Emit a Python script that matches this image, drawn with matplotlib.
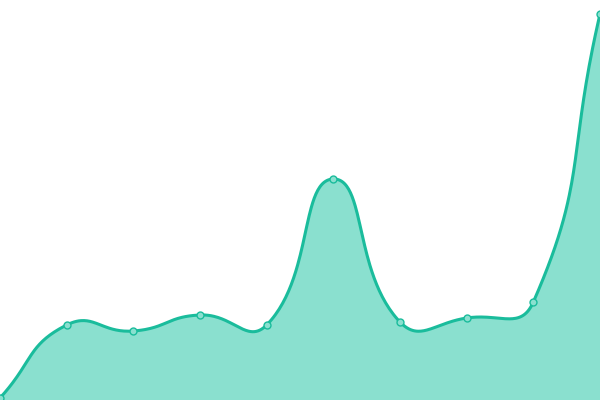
import numpy as np
import matplotlib
matplotlib.use("Agg")
import matplotlib.pyplot as plt

categories = list(range(10))
values = [2, 75, 69, 85, 75, 221, 78, 82, 98, 386]

LINE = "#1abc9c"
FILL = "#8ae0cf"

fig = plt.figure(figsize=(6, 4), dpi=100)
ax = fig.add_axes([0, 0, 1, 1])
ax.set_xlim(0, 9)
ax.set_ylim(0, 400)
ax.axis("off")

# smooth bezier like echarts (smooth=0.5) computed in pixel-proportional space
sx = 600 / 9.0
P = np.array([[c * sx, v] for c, v in zip(categories, values)], dtype=float)
n = len(P)
smooth = 0.5
cps = []
for i in range(n):
    prev = P[i - 1] if i > 0 else P[i]
    nxt = P[i + 1] if i < n - 1 else P[i]
    cur = P[i]
    v = nxt - prev
    d0 = np.linalg.norm(cur - prev)
    d1 = np.linalg.norm(nxt - cur)
    ratio = d0 / (d0 + d1) if (d0 + d1) > 0 else 0.5
    cp0 = cur - v * smooth * ratio
    cp1 = cur + v * smooth * (1 - ratio)
    cps.append((cp0, cp1))

xs, ys = [], []
t = np.linspace(0, 1, 60)
for i in range(n - 1):
    p0 = P[i]
    c1 = cps[i][1]
    c2 = cps[i + 1][0]
    p3 = P[i + 1]
    b = ((1 - t) ** 3)[:, None] * p0 + (3 * (1 - t) ** 2 * t)[:, None] * c1 + \
        (3 * (1 - t) * t ** 2)[:, None] * c2 + (t ** 3)[:, None] * p3
    xs.extend(b[:, 0] / sx)
    ys.extend(b[:, 1])
xs = np.array(xs)
ys = np.array(ys)

ax.fill_between(xs, 0, ys, color=FILL, linewidth=0)
ax.plot(xs, ys, color=LINE, linewidth=2.2, solid_capstyle="round", clip_on=False)
ax.plot(categories, values, linestyle="none", marker="o", markersize=5,
        markerfacecolor=FILL, markeredgecolor=LINE, markeredgewidth=1, clip_on=False)

fig.savefig("out.png", dpi=100)
